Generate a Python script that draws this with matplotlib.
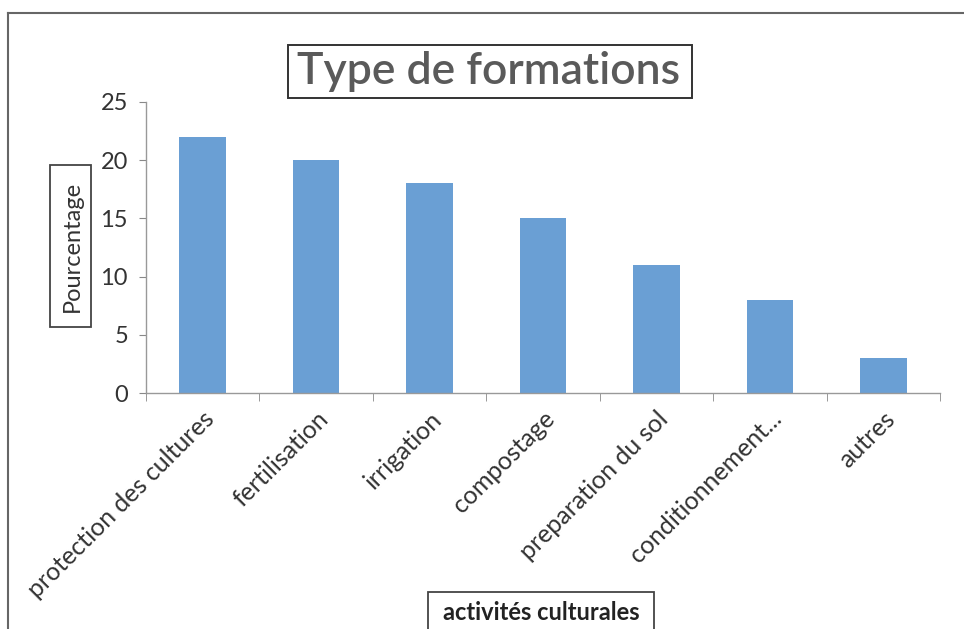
import matplotlib
matplotlib.use("Agg")
import matplotlib.pyplot as plt
from matplotlib.lines import Line2D
from matplotlib.patches import Rectangle

categories = ["protection des cultures", "fertilisation", "irrigation", "compostage",
              "preparation du sol", "conditionnement...", "autres"]
values = [22, 20, 18, 15, 11, 8, 3]
yticks = [0, 5, 10, 15, 20, 25]

plt.rcParams['font.family'] = ['Lato', 'DejaVu Sans']

W, H = 964, 629
fig = plt.figure(figsize=(W / 100, H / 100), dpi=100)
fig.patch.set_facecolor("white")


def fx(px):
    return px / W


def fy(py):
    return 1 - py / H


def frame_box(x0, y0, x1, y1, lw=1.3, color="#444444"):
    fig.add_artist(Rectangle((fx(x0), fy(y1)), fx(x1) - fx(x0), fy(y0) - fy(y1),
                             transform=fig.transFigure, fill=False, ec=color, lw=lw))


ax = fig.add_axes([fx(146), fy(393), fx(940) - fx(146), fy(102) - fy(393)])
x = list(range(len(categories)))
ax.bar(x, values, width=0.41, color="#6a9fd4", zorder=2)

ax.set_xlim(-0.5, len(categories) - 0.5)
ax.set_ylim(0, 25)
ax.set_yticks(yticks)
ax.set_yticklabels([str(t) for t in yticks], fontsize=17, color="#333333")
ax.tick_params(axis="y", length=5, color="#888888", pad=8)

ax.set_xticks(x)
ax.set_xticklabels(categories, rotation=45, ha="right", rotation_mode="anchor",
                   fontsize=18, color="#333333")
ax.tick_params(axis="x", length=0, pad=10)
ax.set_xticks([i - 0.5 for i in range(len(categories) + 1)], minor=True)
ax.tick_params(axis="x", which="minor", length=6, color="#888888")

for s in ["top", "right"]:
    ax.spines[s].set_visible(False)
for s in ["left", "bottom"]:
    ax.spines[s].set_color("#999999")
    ax.spines[s].set_linewidth(1.0)

# Title in a framed box
fig.text(fx(489), fy(72), "Type de formations", ha="center", va="center",
         fontsize=32, fontweight="semibold", color="#5a5a5a")
frame_box(288, 45, 692, 98, lw=1.4, color="#333333")

# Y axis title in a framed box
fig.text(fx(72), fy(246), "Pourcentage", rotation=90, ha="center", va="center",
         fontsize=17, color="#333333")
frame_box(50, 165, 91, 327, lw=1.3)

# X axis title in a framed box
fig.text(fx(541), fy(613), "activités culturales", ha="center", va="center",
         fontsize=17, fontweight="bold", color="#222222")
frame_box(428, 592, 654, 640, lw=1.3)

# Outer frame lines
fig.add_artist(Line2D([fx(8), 1.0], [fy(13), fy(13)], color="#666666", lw=1.5,
                      transform=fig.transFigure))
fig.add_artist(Line2D([fx(8), fx(8)], [0, fy(13)], color="#666666", lw=1.5,
                      transform=fig.transFigure))

fig.savefig("out.png", dpi=100)
